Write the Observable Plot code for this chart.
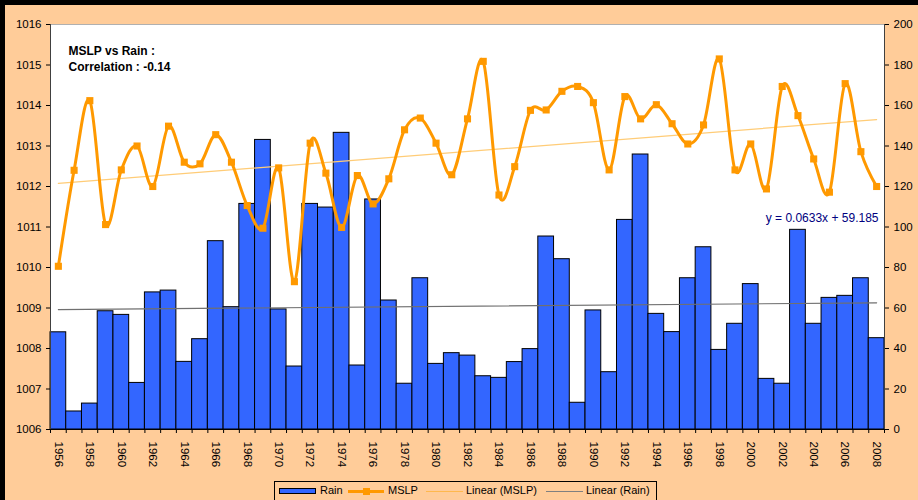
<!DOCTYPE html>
<html><head><meta charset="utf-8">
<script src="https://cdn.jsdelivr.net/npm/d3@7"></script>
<script src="https://cdn.jsdelivr.net/npm/@observablehq/plot@0.6"></script>
<style>
html,body{margin:0;padding:0;background:#FFCC99;}
#page{position:relative;width:918px;height:500px;overflow:hidden;background:#FFCC99;font-family:"Liberation Sans",Arial,sans-serif;}
#topbar{position:absolute;left:0;top:0;width:918px;height:5px;background:#000;}
#leftbar{position:absolute;left:0;top:0;width:5px;height:500px;background:#000;}
#chart{position:absolute;left:5px;top:5px;}
#legend{position:absolute;left:274px;top:481px;width:383px;height:30px;border:1px solid #000;box-sizing:border-box;}
.lg{position:absolute;}
.lt{position:absolute;top:484px;font-size:11px;line-height:13px;color:#000;white-space:nowrap;}
</style>
</head><body>
<div id="page">
  <div id="topbar"></div><div id="leftbar"></div>
  <div id="chart"></div>
  <div id="legend"></div>
  <div class="lg" style="left:279px;top:488px;width:37px;height:6px;background:#3366FF;border:1px solid #000;box-sizing:border-box;"></div>
  <div class="lt" style="left:320px;">Rain</div>
  <div class="lg" style="left:348px;top:490px;width:36px;height:3px;background:#FF9900;"></div>
  <div class="lg" style="left:363px;top:488px;width:7px;height:7px;background:#FF9900;"></div>
  <div class="lt" style="left:388px;">MSLP</div>
  <div class="lg" style="left:426px;top:491px;width:37px;height:1px;background:#FFB84D;"></div>
  <div class="lt" style="left:466px;">Linear (MSLP)</div>
  <div class="lg" style="left:546px;top:491px;width:37px;height:1px;background:#808080;"></div>
  <div class="lt" style="left:586px;">Linear (Rain)</div>
</div>
<script>
const years = [1956,1957,1958,1959,1960,1961,1962,1963,1964,1965,1966,1967,1968,1969,1970,1971,1972,1973,1974,1975,1976,1977,1978,1979,1980,1981,1982,1983,1984,1985,1986,1987,1988,1989,1990,1991,1992,1993,1994,1995,1996,1997,1998,1999,2000,2001,2002,2003,2004,2005,2006,2007,2008];
const rain = [48.0,8.9,12.8,58.4,56.6,23.0,67.7,68.6,33.4,44.6,93.0,60.4,111.4,143.0,59.3,31.1,111.4,109.6,146.5,31.6,113.6,63.7,22.6,74.7,32.4,37.7,36.5,26.3,25.5,33.3,39.7,95.3,84.1,13.2,58.8,28.3,103.5,135.8,57.1,48.1,74.7,90.0,39.3,52.2,71.8,25.0,22.6,98.6,52.2,65.0,66.0,74.7,45.1];
const mslp = [1010.03,1012.40,1014.12,1011.06,1012.41,1013.00,1012.00,1013.49,1012.60,1012.56,1013.28,1012.60,1011.53,1010.97,1012.46,1009.65,1013.07,1012.33,1010.99,1012.27,1011.57,1012.19,1013.40,1013.69,1013.07,1012.29,1013.67,1015.09,1011.79,1012.49,1013.88,1013.89,1014.35,1014.47,1014.07,1012.41,1014.22,1013.67,1014.02,1013.55,1013.05,1013.52,1015.15,1012.41,1013.05,1011.94,1014.47,1013.75,1012.68,1011.86,1014.54,1012.86,1012.00];
const leftTicks = [1006,1007,1008,1009,1010,1011,1012,1013,1014,1015,1016];
const rainTicks = [0,20,40,60,80,100,120,140,160,180,200];
const noteText = "MSLP vs Rain :\nCorrelation : -0.14";
const eqText = "y = 0.0633x + 59.185";

const rainToY = r => 1006 + r / 20;
const data = years.map((year, i) => ({year, rain: rain[i], mslp: mslp[i]}));
const evenYears = years.filter(y => y % 2 === 0);
const boundaries = years.map(y => y - 0.5).concat([years[years.length - 1] + 0.5]);

const chart = Plot.plot({
  width: 913, height: 475,
  marginLeft: 45, marginRight: 34, marginTop: 19, marginBottom: 51,
  x: {domain: [years[0] - 0.5, years[years.length - 1] + 0.5]},
  y: {domain: [leftTicks[0], leftTicks[leftTicks.length - 1]]},
  style: {fontFamily: "'Liberation Sans', Arial, sans-serif", fontSize: "11.5px", background: "transparent", color: "#000", overflow: "visible"},
  marks: [
    Plot.frame({fill: "white", stroke: "none"}),
    Plot.rectY(data, {x1: d => d.year - 0.5, x2: d => d.year + 0.5, y1: leftTicks[0], y2: d => rainToY(d.rain), fill: "#3366FF", stroke: "#000", strokeWidth: 1}),
    Plot.linearRegressionY(data, {x: "year", y: d => rainToY(d.rain), stroke: "#707070", strokeWidth: 1.2, ci: 0}),
    Plot.linearRegressionY(data, {x: "year", y: "mslp", stroke: "#FFCC77", strokeWidth: 1.2, ci: 0}),
    Plot.line(data, {x: "year", y: "mslp", curve: "cardinal", stroke: "#FF9900", strokeWidth: 3}),
    Plot.dot(data, {x: "year", y: "mslp", symbol: "square", r: 4, fill: "#FF9900", stroke: "none"}),
    Plot.ruleY([leftTicks[leftTicks.length - 1]], {stroke: "#b0b0b0"}),
    Plot.ruleX([boundaries[0], boundaries[boundaries.length - 1]], {stroke: "#404040"}),
    Plot.ruleY([leftTicks[0]], {stroke: "#000"}),
    Plot.axisY({anchor: "left", ticks: leftTicks, tickFormat: d => String(d), tickSize: 4, tickPadding: 5, label: null}),
    Plot.axisY({anchor: "right", ticks: rainTicks.map(rainToY), tickFormat: v => String(Math.round((v - 1006) * 20)), tickSize: 4, tickPadding: 5, label: null}),
    Plot.axisX({ticks: boundaries, tickSize: 4, fill: "none", label: null}),
    Plot.axisX({ticks: evenYears, tickSize: 0, tickPadding: 12, tickRotate: 90, tickFormat: d => String(d), label: null}),
    Plot.text([noteText], {frameAnchor: "top-left", dx: 18, dy: 19.5, lineAnchor: "top", textAnchor: "start", fontWeight: "bold", fontSize: 12, lineHeight: 1.333}),
    Plot.text([eqText], {frameAnchor: "right", dx: -6, dy: -9, textAnchor: "end", fill: "#000080", fontSize: 12})
  ]
});
document.getElementById("chart").appendChild(chart);
</script>
</body></html>
